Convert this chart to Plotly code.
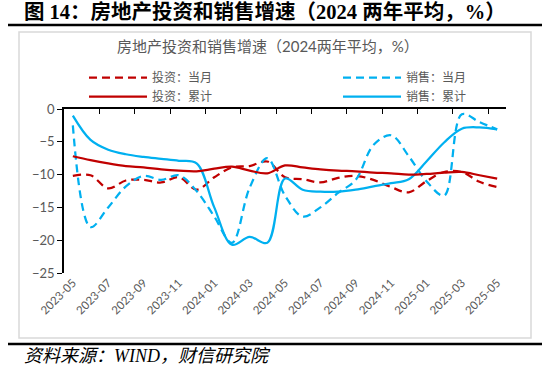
import plotly.graph_objects as go

# ---- data ----
months = ["2023-05", "2023-06", "2023-07", "2023-08", "2023-09", "2023-10", "2023-11", "2023-12",
          "2024-01", "2024-02", "2024-03", "2024-04", "2024-05", "2024-06", "2024-07", "2024-08",
          "2024-09", "2024-10", "2024-11", "2024-12", "2025-01", "2025-02", "2025-03", "2025-04",
          "2025-05"]
inv_month = [-10.2, -10.1, -12.1, -10.9, -10.8, -11.2, -10.4, -12.3, -10.4, -8.9, -8.7, -8.0, -10.4,
             -10.7, -11.2, -10.5, -10.2, -10.8, -11.9, -12.7, -11.0, -9.6, -9.6, -11.1, -11.9]
inv_cum = [-7.2, -7.8, -8.3, -8.7, -8.9, -9.2, -9.4, -9.5, -9.1, -8.8, -9.4, -9.8, -8.6,
           -8.9, -9.2, -9.4, -9.5, -9.7, -9.8, -10.0, -9.9, -9.7, -9.6, -10.1, -10.6]
sales_month = [-2.5, -18.0, -15.0, -11.8, -10.2, -10.8, -10.1, -12.5, -16.4, -20.4, -12.0, -7.5, -13.2,
               -16.4, -15.0, -12.8, -10.8, -5.5, -4.0, -7.2, -11.0, -13.2, -0.8, -2.0, -3.1]
sales_cum = [-1.0, -4.7, -6.2, -6.9, -7.3, -7.6, -7.9, -8.3, -15.0, -20.7, -19.5, -20.4, -10.6,
             -12.3, -12.6, -12.6, -12.3, -11.8, -11.3, -10.7, -8.0, -5.1, -3.0, -2.8, -3.1]
tick_labels = months[::2]
y_ticks = [0, -5, -10, -15, -20, -25]

RED = "#C00000"
BLUE = "#00B0F0"
GRAY = "#595959"
CJK = "Noto Sans CJK SC"

W, H = 550, 373
L, R, T, B = 64, 506, 109, 273


def px(x):
    return (x - L) / (R - L)


def py(y):
    return (B - y) / (B - T)


idx = list(range(len(months)))
fig = go.Figure()
fig.add_trace(go.Scatter(x=idx, y=inv_month, name="投资：当月", mode="lines", legend="legend",
                         line=dict(color=RED, width=2.25, dash="8px,5px", shape="spline", smoothing=1)))
fig.add_trace(go.Scatter(x=idx, y=inv_cum, name="投资：累计", mode="lines", legend="legend",
                         xaxis="x2",
                         line=dict(color=RED, width=2.25, shape="spline", smoothing=1)))
fig.add_trace(go.Scatter(x=idx, y=sales_month, name="销售：当月", mode="lines", legend="legend2",
                         line=dict(color=BLUE, width=2.25, dash="8px,5px", shape="spline", smoothing=1)))
fig.add_trace(go.Scatter(x=idx, y=sales_cum, name="销售：累计", mode="lines", legend="legend2",
                         line=dict(color=BLUE, width=2.25, shape="spline", smoothing=1)))

xr = [-0.5, len(months) - 0.5]
fig.update_layout(
    width=W, height=H,
    margin=dict(l=L, r=W - R, t=T, b=H - B, autoexpand=False),
    paper_bgcolor="white", plot_bgcolor="white",
    font=dict(family=CJK, color=GRAY),
    xaxis=dict(side="bottom", range=xr,
               tickmode="array", tickvals=idx[::2], ticktext=tick_labels, tickangle=-45,
               ticks="", showline=False, showgrid=False, zeroline=False,
               tickfont=dict(family="Lato, " + CJK, size=11.5, color=GRAY)),
    xaxis2=dict(overlaying="x", side="top", anchor="y", range=xr,
                tickmode="array", tickvals=[i + 1.5 for i in range(0, 24, 2)],
                ticks="inside", ticklen=5, tickcolor="black", tickwidth=1.2,
                showline=True, linecolor="black", linewidth=1.5,
                showticklabels=False, showgrid=False, zeroline=False),
    yaxis=dict(range=[-25, 0], tickmode="array", tickvals=y_ticks, ticks="outside", ticklen=5,
               tickcolor="black", tickwidth=1.2, showline=True, linecolor="black",
               linewidth=1.5, showgrid=False, zeroline=False,
               tickfont=dict(family="Lato, " + CJK, size=13, color=GRAY)),
    legend=dict(xref="container", yref="container", x=84 / W, y=1 - 63 / H,
                xanchor="left", yanchor="top", bgcolor="rgba(0,0,0,0)",
                font=dict(size=12, color=GRAY, family=CJK), itemwidth=58,
                tracegroupgap=0),
    legend2=dict(xref="container", yref="container", x=338 / W, y=1 - 63 / H,
                 xanchor="left", yanchor="top", bgcolor="rgba(0,0,0,0)",
                 font=dict(size=12, color=GRAY, family=CJK), itemwidth=58,
                 tracegroupgap=0),
    showlegend=True,
)

shapes = [
    dict(type="rect", xref="paper", yref="paper", x0=px(19), x1=px(531), y0=py(338), y1=py(32),
         line=dict(color="#d9d9d9", width=1.5), layer="below"),
    dict(type="line", xref="paper", yref="paper", x0=px(8), x1=px(542), y0=py(25), y1=py(25),
         line=dict(color="black", width=2.5)),
    dict(type="line", xref="paper", yref="paper", x0=px(8), x1=px(542), y0=py(344), y1=py(344),
         line=dict(color="black", width=2.5)),
]
fig.update_layout(shapes=shapes)

fig.add_annotation(xref="paper", yref="paper", x=px(22), y=py(12), xanchor="left", yanchor="middle",
                   text="<b>图 14：房地产投资和销售增速（2024 两年平均，%）</b>", showarrow=False,
                   font=dict(family="Liberation Serif, " + CJK, size=20.5, color="black"))
fig.add_annotation(xref="paper", yref="paper", x=px(268), y=py(46), xanchor="center", yanchor="middle",
                   text="房地产投资和销售增速（2024两年平均，%）", showarrow=False,
                   font=dict(family="Lato, " + CJK, size=15, color=GRAY))
fig.add_annotation(xref="paper", yref="paper", x=px(22), y=py(356), xanchor="left", yanchor="middle",
                   text="<i>资料来源：WIND，财信研究院</i>", showarrow=False,
                   font=dict(family="Liberation Serif, " + CJK, size=18, color="black"))

fig.write_html("out.html", config={"displayModeBar": False},
               post_script="document.body.style.margin='0px';")
